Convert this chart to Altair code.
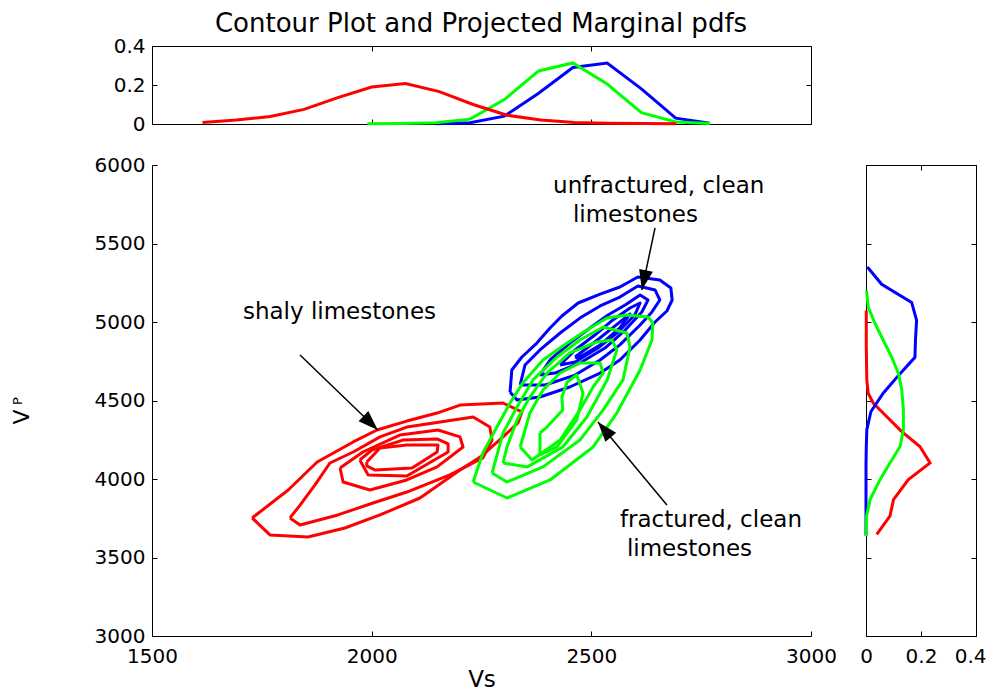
import altair as alt
import pandas as pd

# ---------------- data ----------------
# contour rings, (Vs, Vp) vertices
RED_1 = [(1728,3752),(1769,3643),(1855,3631),(1939,3688),(2019,3771),(2110,3879),(2201,4057),(2247,4140),(2299,4268),(2333,4357),(2342,4427),(2299,4484),(2201,4471),(2149,4420),(2080,4369),(2012,4312),(1958,4236),(1876,4108),(1810,3930)]
RED_2 = [(1814,3752),(1837,3707),(1923,3771),(2003,3847),(2080,3917),(2178,4026),(2253,4134),(2274,4248),(2269,4331),(2231,4395),(2156,4363),(2080,4331),(2019,4268),(1958,4172),(1905,4102),(1871,3962),(1837,3834)]
RED_3 = [(1928,4070),(1935,3981),(1996,3930),(2080,3994),(2149,4077),(2208,4204),(2201,4268),(2151,4312),(2064,4280),(1980,4172)]
RED_4 = [(1973,4121),(1992,4026),(2080,4019),(2174,4172),(2174,4223),(2149,4255),(2071,4248),(2001,4185)]
RED_5 = [(1989,4108),(2019,4197),(2080,4217),(2151,4217),(2149,4172),(2092,4070),(2008,4057),(1989,4083)]

BLUE_1 = [(2315,4554),(2319,4694),(2342,4777),(2376,4866),(2406,4962),(2433,5038),(2470,5121),(2520,5178),(2565,5223),(2606,5287),(2656,5268),(2681,5217),(2684,5140),(2672,5070),(2645,5000),(2611,4885),(2565,4758),(2520,4675),(2451,4586),(2383,4522),(2331,4503)]
BLUE_2 = [(2338,4599),(2349,4726),(2383,4822),(2429,4930),(2474,5025),(2520,5102),(2565,5159),(2606,5229),(2645,5204),(2656,5140),(2638,5064),(2611,4981),(2565,4854),(2520,4758),(2463,4662),(2395,4599)]
BLUE_3 = [(2383,4662),(2406,4758),(2451,4866),(2497,4962),(2538,5045),(2577,5108),(2611,5172),(2629,5140),(2615,5064),(2577,4949),(2531,4834),(2474,4739),(2417,4675)]
BLUE_4 = [(2429,4726),(2463,4822),(2508,4917),(2549,5013),(2588,5089),(2611,5121),(2599,5045),(2561,4936),(2515,4834),(2463,4745)]
BLUE_5 = [(2463,4777),(2508,4873),(2554,4975),(2588,5051),(2565,4962),(2520,4854),(2470,4771)]

GREEN_1 = [(2231,3981),(2308,3879),(2406,3994),(2504,4204),(2558,4420),(2611,4694),(2638,4885),(2640,4994),(2629,5032),(2581,5045),(2536,5025),(2490,4949),(2445,4866),(2390,4758),(2344,4612),(2315,4484),(2285,4331),(2253,4166)]
GREEN_2 = [(2274,4038),(2308,3981),(2390,4077),(2474,4248),(2527,4440),(2572,4631),(2588,4841),(2581,4930),(2527,4968),(2474,4885),(2422,4777),(2367,4631),(2331,4459),(2299,4293)]
GREEN_3 = [(2299,4102),(2354,4077),(2435,4204),(2490,4395),(2536,4631),(2558,4822),(2547,4885),(2513,4873),(2451,4803),(2399,4675),(2360,4522),(2331,4376),(2308,4204)]
GREEN_4 = [(2338,4204),(2365,4121),(2429,4248),(2474,4440),(2504,4586),(2527,4675),(2520,4739),(2474,4739),(2429,4675),(2390,4567),(2360,4420)]
GREEN_5 = [(2383,4293),(2383,4153),(2422,4204),(2467,4376),(2481,4548),(2467,4662),(2445,4618),(2433,4522),(2435,4440),(2399,4331)]

# marginal pdf of Vs (top panel)
RED_TOP_VS = [1615,1692,1769,1846,1923,2000,2077,2154,2231,2308,2385,2462,2539,2616,2693]
RED_TOP_PDF = [0.008,0.02,0.038,0.075,0.135,0.19,0.208,0.166,0.1,0.045,0.02,0.008,0.004,0.002,0.001]
GREEN_TOP_VS = [1990,2068,2146,2224,2302,2380,2458,2536,2614,2692,2770]
GREEN_TOP_PDF = [0.001,0.002,0.006,0.025,0.125,0.272,0.313,0.205,0.058,0.01,0.003]
BLUE_TOP_VS = [2146,2224,2302,2380,2458,2536,2614,2692,2770]
BLUE_TOP_PDF = [0.001,0.006,0.04,0.158,0.29,0.313,0.18,0.03,0.004]

# marginal pdf of Vp (right panel)
BLUE_RIGHT_VP = [5350,5240,5125,5010,4890,4775,4660,4545,4430,4315,4200,4085,3970,3855,3740,3640]
BLUE_RIGHT_PDF = [0.005,0.057,0.166,0.184,0.18,0.178,0.118,0.062,0.018,0.003,0.001,0.0,0.0,0.0,0.0,0.0]
GREEN_RIGHT_VP = [5200,5095,4989,4884,4778,4672,4567,4440,4313,4207,4102,3996,3869,3763,3636]
GREEN_RIGHT_PDF = [0.002,0.008,0.033,0.063,0.093,0.118,0.13,0.136,0.136,0.124,0.087,0.051,0.015,0.002,0.001]
RED_RIGHT_VP = [5074,4960,4846,4732,4630,4546,4482,4419,4302,4207,4102,3996,3869,3763,3647]
RED_RIGHT_PDF = [0.001,0.001,0.001,0.002,0.003,0.008,0.027,0.063,0.13,0.196,0.233,0.154,0.1,0.087,0.039]

# annotations
ARROW_FROM_VS = [1837, 2645, 2672]
ARROW_FROM_VP = [4790, 5599, 3834]
ARROW_TO_VS = [2014, 2615, 2515]
ARROW_TO_VP = [4312, 5204, 4363]
ARROW_ANGLE = [134, 192, 320]
NOTE_TEXT = ["shaly limestones", "unfractured, clean", "limestones", "fractured, clean", "limestones"]
NOTE_VS = [1707, 2413, 2458, 2565, 2581]
NOTE_VP = [5064, 5866, 5682, 3739, 3554]

TITLE = "Contour Plot and Projected Marginal pdfs"
X_TITLE = "Vs"

X_TICKS = [1500, 2000, 2500, 3000]
Y_TICKS = [3000, 3500, 4000, 4500, 5000, 5500, 6000]
PDF_TICKS = [0, 0.2, 0.4]

# ---------------- layout (pixels inside the page margin) ----------------
W, H = 978, 684
MAIN_X_RANGE = [144, 803]
MAIN_Y_RANGE = [628, 157]
TOP_Y_RANGE = [116, 38]
RIGHT_X_RANGE = [858, 968]
FONT = "DejaVu Sans"
RED, GREEN, BLUE = "#ff0000", "#00ff00", "#0000ff"

# ---------------- tables ----------------
rows = []
for col, rings in [(BLUE, [BLUE_1, BLUE_2, BLUE_3, BLUE_4, BLUE_5]),
                   (RED, [RED_1, RED_2, RED_3, RED_4, RED_5]),
                   (GREEN, [GREEN_1, GREEN_2, GREEN_3, GREEN_4, GREEN_5])]:
    for r, pts in enumerate(rings):
        closed = list(pts) + [pts[0]]
        for i, (a, b) in enumerate(closed):
            rows.append(dict(col=col, ring=f"{col}_{r}", idx=i, vs=a, vp=b))
contours = pd.DataFrame(rows)

top_rows = []
for col, xs, ys in [(BLUE, BLUE_TOP_VS, BLUE_TOP_PDF), (GREEN, GREEN_TOP_VS, GREEN_TOP_PDF), (RED, RED_TOP_VS, RED_TOP_PDF)]:
    for i, (a, b) in enumerate(zip(xs, ys)):
        top_rows.append(dict(col=col, idx=i, vs=a, pdf=b))
top_df = pd.DataFrame(top_rows)

right_rows = []
for col, ys, xs in [(RED, RED_RIGHT_VP, RED_RIGHT_PDF), (BLUE, BLUE_RIGHT_VP, BLUE_RIGHT_PDF), (GREEN, GREEN_RIGHT_VP, GREEN_RIGHT_PDF)]:
    for i, (a, b) in enumerate(zip(ys, xs)):
        right_rows.append(dict(col=col, idx=i, vp=a, pdf=b))
right_df = pd.DataFrame(right_rows)

arrows = pd.DataFrame(dict(x1=ARROW_FROM_VS, y1=ARROW_FROM_VP, x2=ARROW_TO_VS, y2=ARROW_TO_VP, ang=ARROW_ANGLE))
notes = pd.DataFrame(dict(t=NOTE_TEXT, vs=NOTE_VS, vp=NOTE_VP))

# ---------------- scales / axes helpers ----------------
def sc(domain, rng):
    return alt.Scale(domain=domain, range=rng, nice=False, zero=False)

MAIN_XS = sc([1500, 3000], MAIN_X_RANGE)
MAIN_YS = sc([3000, 6000], MAIN_Y_RANGE)
TOP_YS = sc([0, 0.4], TOP_Y_RANGE)
RIGHT_XS = sc([0, 0.4], RIGHT_X_RANGE)

PDF_LABEL = "datum.value == 0 ? '0' : format(datum.value, '.1f')"


def ax(orient, offset, values, labels=False, fmt=None, label_expr=None, title=None, last_right=False):
    kw = dict(orient=orient, offset=offset, values=values, grid=False,
              domain=True, domainColor="#000000", domainWidth=1,
              ticks=True, tickColor="#000000", tickWidth=1, tickSize={"expr": "-5"},
              labels=labels, title=title)
    if labels:
        pad = 15 if orient in ("bottom", "top") else 12
        kw.update(labelFont=FONT, labelFontSize=20, labelColor="#000000",
                  labelPadding=pad, labelFlush=False, labelOverlap=False)
        if fmt:
            kw["format"] = fmt
        if label_expr:
            kw["labelExpr"] = label_expr
        if last_right:
            kw["labelAlign"] = {"condition": {"test": "datum.value > 0.3", "value": "right"}, "value": "center"}
            kw["labelOffset"] = {"condition": {"test": "datum.value > 0.3", "value": 10}, "value": 0}
    if title:
        kw.update(titleFont=FONT, titleFontSize=23, titleFontWeight="normal",
                  titleColor="#000000", titlePadding=2)
    return alt.Axis(**kw)

# ---------------- layers ----------------
main_contours = alt.Chart(contours).mark_line(strokeWidth=3, strokeJoin="round").encode(
    x=alt.X("vs:Q", scale=MAIN_XS, axis=ax("bottom", MAIN_Y_RANGE[0] - H, X_TICKS, labels=True, fmt="d", title=X_TITLE)),
    y=alt.Y("vp:Q", scale=MAIN_YS, axis=ax("left", -MAIN_X_RANGE[0], Y_TICKS, labels=True, fmt="d")),
    color=alt.Color("col:N", scale=None),
    detail="ring:N",
    order="idx:Q",
)

arrow_lines = alt.Chart(arrows).mark_rule(strokeWidth=1.5, color="#000000").encode(
    x=alt.X("x1:Q", scale=MAIN_XS, axis=None),
    y=alt.Y("y1:Q", scale=MAIN_YS, axis=None),
    x2="x2:Q", y2="y2:Q",
)

arrow_heads = alt.Chart(arrows).mark_point(
    shape="M0,0L-0.7,2L0.7,2Z", filled=True, color="#000000", opacity=1, size=400, strokeWidth=0
).encode(
    x=alt.X("x2:Q", scale=MAIN_XS, axis=None),
    y=alt.Y("y2:Q", scale=MAIN_YS, axis=None),
    angle=alt.Angle("ang:Q", scale=None),
)

note_text = alt.Chart(notes).mark_text(font=FONT, fontSize=23, align="left", baseline="middle", color="#000000").encode(
    x=alt.X("vs:Q", scale=MAIN_XS, axis=None),
    y=alt.Y("vp:Q", scale=MAIN_YS, axis=None),
    text="t:N",
)

top_lines = alt.Chart(top_df).mark_line(strokeWidth=3).encode(
    x=alt.X("vs:Q", scale=MAIN_XS, axis=ax("bottom", TOP_Y_RANGE[0] - H, X_TICKS)),
    y=alt.Y("pdf:Q", scale=TOP_YS, axis=ax("left", -MAIN_X_RANGE[0], PDF_TICKS, labels=True, label_expr=PDF_LABEL)),
    color=alt.Color("col:N", scale=None),
    order="idx:Q",
)
top_box = alt.Chart(top_df).mark_line(opacity=0).encode(
    x=alt.X("vs:Q", scale=MAIN_XS, axis=ax("top", -TOP_Y_RANGE[1], X_TICKS)),
    y=alt.Y("pdf:Q", scale=TOP_YS, axis=ax("right", MAIN_X_RANGE[1] - W, PDF_TICKS)),
    detail="col:N",
    order="idx:Q",
)

right_lines = alt.Chart(right_df).mark_line(strokeWidth=3).encode(
    x=alt.X("pdf:Q", scale=RIGHT_XS, axis=ax("bottom", MAIN_Y_RANGE[0] - H, PDF_TICKS, labels=True, label_expr=PDF_LABEL, last_right=True)),
    y=alt.Y("vp:Q", scale=MAIN_YS, axis=ax("left", -RIGHT_X_RANGE[0], Y_TICKS)),
    color=alt.Color("col:N", scale=None),
    order="idx:Q",
)
right_box = alt.Chart(right_df).mark_line(opacity=0).encode(
    x=alt.X("pdf:Q", scale=RIGHT_XS, axis=ax("top", -MAIN_Y_RANGE[1], PDF_TICKS)),
    y=alt.Y("vp:Q", scale=MAIN_YS, axis=ax("right", RIGHT_X_RANGE[1] - W, Y_TICKS)),
    detail="col:N",
    order="idx:Q",
)

title_df = pd.DataFrame(dict(t=[TITLE]))
title_mark = alt.Chart(title_df).mark_text(font=FONT, fontSize=26, align="center", baseline="alphabetic", color="#000000").encode(
    x=alt.value(473), y=alt.value(24), text="t:N")

vp_df = pd.DataFrame(dict(t=["V"]))
vp_v = alt.Chart(vp_df).mark_text(font=FONT, fontSize=22, angle=270, align="center", baseline="middle", color="#000000").encode(
    x=alt.value(14), y=alt.value(409), text="t:N")
vp_p_df = pd.DataFrame(dict(t=["P"]))
vp_p = alt.Chart(vp_p_df).mark_text(font=FONT, fontSize=13, angle=270, align="center", baseline="middle", color="#000000").encode(
    x=alt.value(10), y=alt.value(393), text="t:N")

chart = alt.layer(
    top_box, top_lines, right_box, right_lines, main_contours, arrow_lines, arrow_heads, note_text,
    title_mark, vp_v, vp_p,
).resolve_scale(x="independent", y="independent").properties(
    width=W, height=H, padding=0, background="white",
    autosize=alt.AutoSizeParams(type="none"),
).configure_view(stroke=None)

chart.save("out.html", embed_options={"renderer": "svg", "actions": False})
